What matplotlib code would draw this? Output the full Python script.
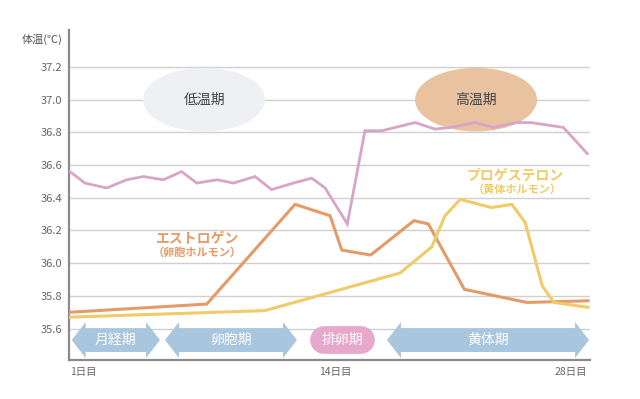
import matplotlib
matplotlib.use('Agg')
import matplotlib.pyplot as plt
from matplotlib.patches import Polygon, Ellipse

plt.rcParams['font.family'] = ['Noto Sans CJK JP', 'DejaVu Sans']

# ---- data ----
temp_days = [1.0, 1.78, 2.92, 3.96, 4.83, 5.87, 6.83, 7.62, 8.68, 9.53, 10.66,
             11.53, 12.66, 13.62, 14.32, 15.48, 16.40, 17.28, 19.02, 20.06,
             20.84, 22.15, 23.10, 24.33, 25.06, 26.76, 28.01]
temp_vals = [36.56, 36.49, 36.46, 36.51, 36.53, 36.51, 36.56, 36.49, 36.51,
             36.49, 36.53, 36.45, 36.49, 36.52, 36.46, 36.24, 36.81, 36.81,
             36.86, 36.82, 36.83, 36.86, 36.83, 36.86, 36.86, 36.83, 36.67]

estrogen_days = [1.0, 8.14, 12.75, 14.58, 15.19, 16.70, 18.96, 19.71, 21.59, 24.85, 28.05]
estrogen_vals = [35.70, 35.75, 36.36, 36.29, 36.08, 36.05, 36.26, 36.24, 35.84, 35.76, 35.77]

progesterone_days = [1.0, 11.18, 18.23, 19.89, 20.58, 21.37, 23.02, 24.07, 24.76, 25.66, 26.27, 28.05]
progesterone_vals = [35.67, 35.71, 35.94, 36.10, 36.29, 36.39, 36.34, 36.36, 36.25, 35.86, 35.76, 35.73]

y_ticks = [35.6, 35.8, 36.0, 36.2, 36.4, 36.6, 36.8, 37.0, 37.2]
x_ticks = [1, 14, 28]
x_tick_labels = ['1日目', '14日目', '28日目']

phase_names = ['月経期', '卵胞期', '排卵期', '黄体期']
phase_start = [1.09, 5.96, 13.53, 17.55]
phase_end = [5.70, 12.85, 16.93, 28.10]
phase_kind = ['arrow', 'arrow', 'pill', 'arrow']

period_names = ['低温期', '高温期']
period_center_day = [8.0, 22.2]

# ---- colours ----
c_temp = '#d8a5c6'
c_estr = '#e39b68'
c_prog = '#f0cb68'
c_arrow = '#a9c6df'
c_pill = '#e6a8cb'
c_low = '#eef0f4'
c_high = '#e9c3a0'

fig = plt.figure(figsize=(6.4, 3.99), dpi=100)
ax = fig.add_axes([69 / 640, 1 - 360 / 399, (590 - 69) / 640, (360 - 30) / 399])
ax.set_xlim(0.948, 28.15)
ax.set_ylim(35.408, 37.426)

ax.set_yticks(y_ticks)
ax.set_yticklabels([f'{v:.1f}' for v in y_ticks])
ax.set_xticks(x_ticks)
ax.set_xticklabels(x_tick_labels)
for lbl, ha in zip(ax.get_xticklabels(), ['left', 'left', 'right']):
    lbl.set_ha(ha)
ax.tick_params(axis='y', length=0, pad=5, labelsize=8, labelcolor='#666666')
ax.tick_params(axis='x', length=0, pad=5, labelsize=7.5, labelcolor='#666666')
ax.grid(axis='y', color='#d0d0d0', lw=1)
ax.set_axisbelow(True)
for s in ['top', 'right']:
    ax.spines[s].set_visible(False)
for s in ['left', 'bottom']:
    ax.spines[s].set_color('#8a8a8a')
    ax.spines[s].set_linewidth(1.6)

# ellipses (low / high temperature periods)
for name, cx, col in zip(period_names, period_center_day, [c_low, c_high]):
    ax.add_patch(Ellipse((cx, 37.0), 6.37, 0.39, facecolor=col, edgecolor='none', zorder=1))
    ax.text(cx, 37.0, name, ha='center', va='center', fontsize=10, color='#444444', zorder=5)

# lines
ax.plot(temp_days, temp_vals, color=c_temp, lw=2, zorder=3, solid_joinstyle='miter')
ax.plot(estrogen_days, estrogen_vals, color=c_estr, lw=2.2, zorder=3)
ax.plot(progesterone_days, progesterone_vals, color=c_prog, lw=2.2, zorder=3)

# hormone labels
ax.text(7.66, 36.148, 'エストロゲン', ha='center', va='center', fontsize=10,
        color=c_estr, fontweight='bold', zorder=5)
ax.text(7.63, 36.068, '（卵胞ホルモン）', ha='center', va='center', fontsize=8,
        color=c_estr, fontweight='bold', zorder=5)
ax.text(24.24, 36.536, 'プロゲステロン', ha='center', va='center', fontsize=10,
        color=c_prog, fontweight='bold', zorder=5)
ax.text(24.34, 36.454, '（黄体ホルモン）', ha='center', va='center', fontsize=8,
        color=c_prog, fontweight='bold', zorder=5)

# phase arrows
yc = 35.530
h_head = 0.110
h_body = 0.073
head_len = 0.73
for name, s, e, kind in zip(phase_names, phase_start, phase_end, phase_kind):
    if kind == 'arrow':
        pts = [(s, yc), (s + head_len, yc + h_head), (s + head_len, yc + h_body),
               (e - head_len, yc + h_body), (e - head_len, yc + h_head), (e, yc),
               (e - head_len, yc - h_head), (e - head_len, yc - h_body),
               (s + head_len, yc - h_body), (s + head_len, yc - h_head)]
        ax.add_patch(Polygon(pts, closed=True, facecolor=c_arrow, edgecolor='none',
                             zorder=4, clip_on=False))
    else:
        r = 0.73
        ax.plot([s + r, e - r], [yc, yc], color=c_pill, lw=20,
                solid_capstyle='round', zorder=4)
    ax.text((s + e) / 2, yc, name, ha='center', va='center', fontsize=10,
            color='white', zorder=6)

fig.text(42 / 640, 1 - 39 / 399, '体温(℃)', ha='center', va='center',
         fontsize=8, color='#555555')

fig.savefig('out.png', dpi=100, facecolor='white')
